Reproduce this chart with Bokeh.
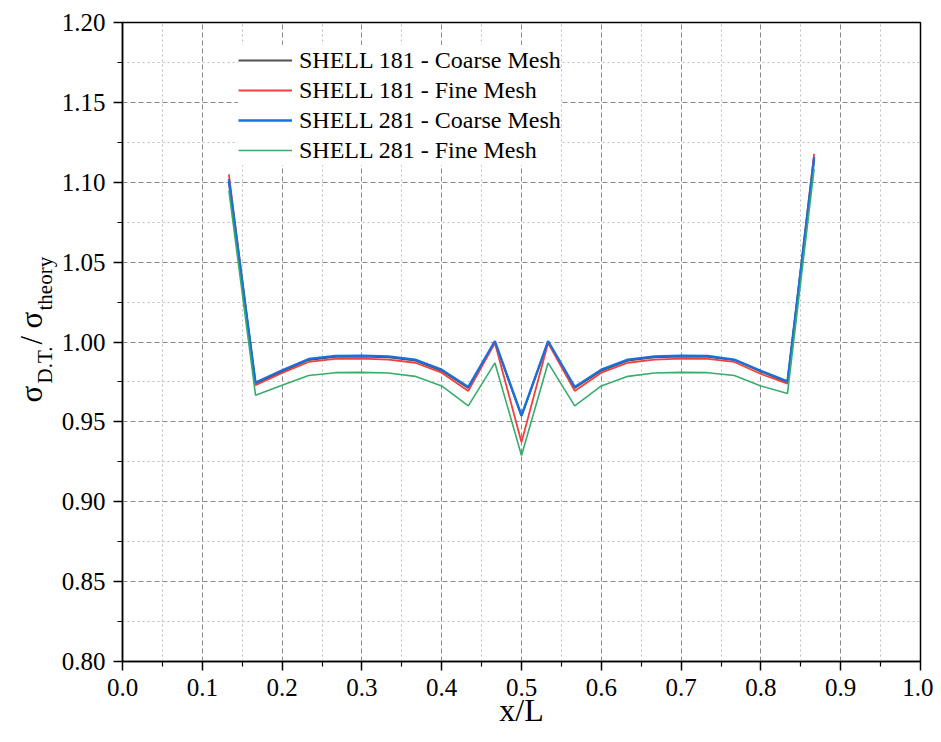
import math
from bokeh.plotting import figure
from bokeh.layouts import row
from bokeh.models import (FixedTicker, PrintfTickFormatter, Legend, LegendItem,
                          Label, Range1d)
from bokeh.embed import file_html
from bokeh.resources import INLINE

# ---------------- data ----------------
x_over_L = [0.1333, 0.1667, 0.2000, 0.2333, 0.2667, 0.3000, 0.3333, 0.3667,
            0.4000, 0.4333, 0.4667, 0.5000, 0.5333, 0.5667, 0.6000, 0.6333,
            0.6667, 0.7000, 0.7333, 0.7667, 0.8000, 0.8333, 0.8667]

shell181_coarse = [1.100, 0.9740, 0.9815, 0.9888, 0.9907, 0.9909, 0.9905, 0.9884,
                   0.9820, 0.9712, 1.0000, 0.9535, 1.0000, 0.9712, 0.9820, 0.9884,
                   0.9905, 0.9909, 0.9907, 0.9888, 0.9815, 0.9748, 1.114]
shell181_fine = [1.105, 0.9729, 0.9806, 0.9875, 0.9894, 0.9896, 0.9890, 0.9870,
                 0.9808, 0.9694, 0.9994, 0.9372, 0.9994, 0.9694, 0.9808, 0.9870,
                 0.9890, 0.9896, 0.9894, 0.9875, 0.9800, 0.9740, 1.1178]
shell281_coarse = [1.102, 0.9746, 0.9823, 0.9894, 0.9913, 0.9915, 0.9910, 0.9890,
                   0.9827, 0.9719, 1.0006, 0.9540, 1.0006, 0.9719, 0.9827, 0.9890,
                   0.9910, 0.9915, 0.9913, 0.9890, 0.9820, 0.9754, 1.1157]
shell281_fine = [1.0948, 0.9667, 0.9729, 0.9790, 0.9808, 0.9810, 0.9806, 0.9785,
                 0.9725, 0.9600, 0.9869, 0.9290, 0.9869, 0.9600, 0.9725, 0.9785,
                 0.9806, 0.9810, 0.9808, 0.9790, 0.9725, 0.9677, 1.1084]

series_names = ["SHELL 181 - Coarse Mesh", "SHELL 181 - Fine Mesh",
                "SHELL 281 - Coarse Mesh", "SHELL 281 - Fine Mesh"]
series_values = [shell181_coarse, shell181_fine, shell281_coarse, shell281_fine]
series_colors = ["#515151", "#F14040", "#1A6FDF", "#37AD6B"]
series_widths = [2.0, 1.8, 2.3, 1.6]

x_major = [0.0, 0.1, 0.2, 0.3, 0.4, 0.5, 0.6, 0.7, 0.8, 0.9, 1.0]
x_minor = [0.05, 0.15, 0.25, 0.35, 0.45, 0.55, 0.65, 0.75, 0.85, 0.95]
y_major = [0.80, 0.85, 0.90, 0.95, 1.00, 1.05, 1.10, 1.15, 1.20]
y_minor = [0.825, 0.875, 0.925, 0.975, 1.025, 1.075, 1.125, 1.175]

FONT = "Liberation Serif"
H = 734
LABEL_W = 58

p = figure(width=933 - LABEL_W, height=H, output_backend="svg",
           toolbar_location=None,
           x_range=Range1d(0.0, 1.0), y_range=Range1d(0.80, 1.20),
           min_border_left=122 - LABEL_W, min_border_right=13,
           min_border_top=22, min_border_bottom=73)
p.background_fill_color = "white"
p.border_fill_color = "white"
p.outline_line_color = "black"
p.outline_line_width = 1.5

# axes
p.xaxis.ticker = FixedTicker(ticks=x_major, minor_ticks=x_minor)
p.yaxis.ticker = FixedTicker(ticks=y_major, minor_ticks=y_minor)
p.xaxis.formatter = PrintfTickFormatter(format="%.1f")
p.yaxis.formatter = PrintfTickFormatter(format="%.2f")
for ax in (p.xaxis, p.yaxis):
    ax.axis_line_color = "black"
    ax.axis_line_width = 1.5
    ax.major_tick_line_color = "black"
    ax.major_tick_line_width = 1.5
    ax.minor_tick_line_color = "black"
    ax.minor_tick_line_width = 1.2
    ax.major_tick_out = 9
    ax.major_tick_in = 0
    ax.minor_tick_out = 5
    ax.minor_tick_in = 0
    ax.major_label_text_font = FONT
    ax.major_label_text_font_size = "25px"
    ax.major_label_text_color = "black"
    ax.major_label_standoff = 8
p.xaxis.axis_label = "x/L"
p.xaxis.axis_label_text_font = FONT
p.xaxis.axis_label_text_font_size = "32px"
p.xaxis.axis_label_text_font_style = "normal"
p.xaxis.axis_label_text_color = "black"
p.xaxis.axis_label_standoff = -7

# grids
for g in (p.xgrid, p.ygrid):
    g.grid_line_color = "#8a8a8a"
    g.grid_line_width = 1
    g.grid_line_dash = "5 3"
    g.minor_grid_line_color = "#bdbdbd"
    g.minor_grid_line_width = 1
    g.minor_grid_line_dash = "2 3"

# lines
renderers = []
for vals, col, w in zip(series_values, series_colors, series_widths):
    r = p.line(x_over_L, vals, line_color=col, line_width=w)
    renderers.append(r)

legend = Legend(items=[LegendItem(label=n, renderers=[r])
                       for n, r in zip(series_names, renderers)],
                location=(116, 496))
legend.label_text_font = FONT
legend.label_text_font_size = "24px"
legend.label_text_color = "black"
legend.glyph_width = 54
legend.glyph_height = 30
legend.label_height = 30
legend.spacing = 0
legend.label_standoff = 7
legend.padding = 5
legend.margin = 0
legend.border_line_color = None
legend.background_fill_color = "white"
legend.background_fill_alpha = 1.0
p.add_layout(legend)

# separate narrow panel carrying the rotated y-axis label
# (sigma with subscripts built from pieces); its frame is aligned with
# the main frame vertically, so y is measured up from the x axis line
lab = figure(width=LABEL_W, height=H, output_backend="svg",
             toolbar_location=None, x_axis_location=None,
             y_axis_location=None, min_border=0,
             x_range=Range1d(0, 1), y_range=Range1d(0, 1))
lab.outline_line_color = None
lab.background_fill_color = "white"
lab.border_fill_color = "white"
lab.xgrid.visible = False
lab.ygrid.visible = False

ylabel_pieces = [
    ("σ", "31px", 31, 259),
    ("D.T.", "21px", 44, 278),
    ("/", "31px", 31, 317),
    ("σ", "31px", 31, 333),
    ("theory", "21px", 44, 351),
]
for txt, fs, xs, ys in ylabel_pieces:
    lab.add_layout(Label(x=xs, y=ys, x_units="screen", y_units="screen",
                         angle=math.pi / 2, text=txt, text_font=FONT,
                         text_font_size=fs, text_color="black",
                         text_baseline="alphabetic", text_align="left"))

layout = row(lab, p)
open("out.html", "w").write(file_html(layout, INLINE))
